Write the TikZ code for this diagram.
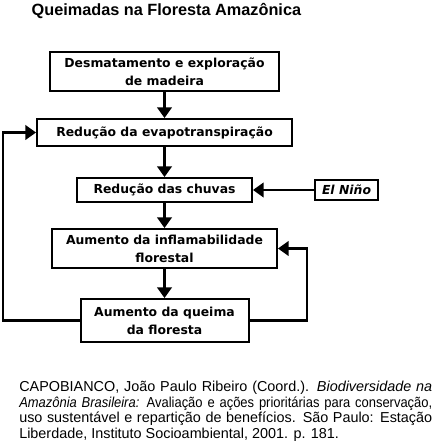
\documentclass[tikz,border=0pt]{standalone}
\usepackage{fontspec}
\setmainfont{Liberation Sans}
\newfontfamily\boxfont{DejaVu Sans}
\newfontfamily\narrowfont[FakeStretch=0.9]{Liberation Sans}
\usetikzlibrary{arrows.meta}
\begin{document}
\begin{tikzpicture}
[x=0.75pt,y=-0.75pt,
  boxdecorate/.style={shape=rectangle,draw,line width=1.5pt,inner sep=0pt,align=center,%
    font=\boxfont\bfseries\fontsize{9.3}{13.5}\selectfont},
  linedecorate/.style={line width=1.6pt},
  arrowdecorate/.style={linedecorate,-{Triangle[width=11pt,length=8pt]}}]
\useasboundingbox (0,0) rectangle (434,448);
% title
\node (title) at (27,11) [anchor=west,font=\bfseries\fontsize{12.2}{14}\selectfont]
  {Queimadas na Floresta Amazônica};
% boxes
\node (desm) at (164.5,71.5) [boxdecorate,minimum width=171.75pt,minimum height=29.25pt]
  {Desmatamento e exploração\\de madeira};
\node (evap) at (164.5,132.5) [boxdecorate,minimum width=191.25pt,minimum height=20.25pt]
  {Redução da evapotranspiração};
\node (chuv) at (164.5,190) [boxdecorate,minimum width=131.25pt,minimum height=18pt]
  {Redução das chuvas};
\node (nino) at (346.5,190) [boxdecorate,minimum width=47.25pt,minimum height=15pt]
  {\itshape El Niño};
\node (infl) at (164.5,248.5) [boxdecorate,minimum width=168.75pt,minimum height=29.25pt]
  {Aumento da inflamabilidade\\florestal};
\node (quei) at (164.5,320.5) [boxdecorate,minimum width=126pt,minimum height=32.25pt]
  {Aumento da queima\\da floresta};
% feedback corners
\coordinate (lft) at (3,0);
\coordinate (rgt) at (307,0);
% arrows
\draw[arrowdecorate] (desm) -- (evap);
\draw[arrowdecorate] (evap) -- (chuv);
\draw[arrowdecorate] (chuv) -- (infl);
\draw[arrowdecorate] (infl) -- (quei);
\draw[arrowdecorate] (nino) -- (chuv);
\draw[arrowdecorate] (quei.west) -- (quei.west -| lft) |- (evap.west);
\draw[arrowdecorate] (quei.east) -- (quei.east -| rgt) |- (infl.east);
% reference
\node (ref) at (19,381) [anchor=north west,inner sep=0pt,text width=309.75pt,align=justify,
  font=\fontsize{10.8}{11.7}\selectfont]
  {CAPOBIANCO, João Paulo Ribeiro (Coord.). \textit{Biodiversidade na}\linebreak
   {\narrowfont\textit{Amazônia Brasileira:} Avaliação e ações prioritárias para conservação,}\linebreak
   uso sustentável e repartição de benefícios. São Paulo: Estação\linebreak
   Liberdade, Instituto Socioambiental, 2001. p. 181.};
\end{tikzpicture}
\end{document}
